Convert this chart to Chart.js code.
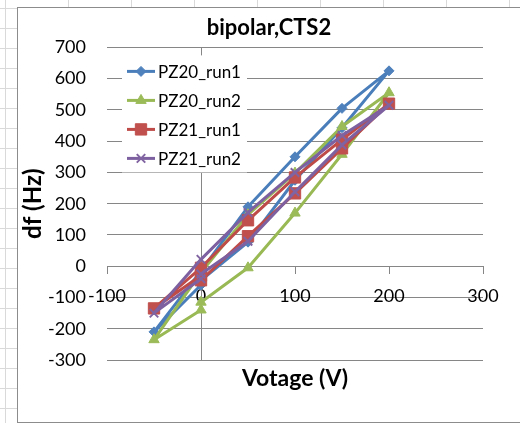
<!DOCTYPE html>
<html>
<head>
<meta charset="utf-8">
<script src="https://cdn.jsdelivr.net/npm/chart.js@4.4.0/dist/chart.umd.min.js"></script>
<style>
  html, body { margin: 0; padding: 0; }
  body {
    width: 520px; height: 423px; overflow: hidden; position: relative; background: #fff;
    background-image:
      linear-gradient(to right, #d9d9d9 1px, transparent 1px),
      linear-gradient(to bottom, #d9d9d9 1px, transparent 1px);
    background-size: 63px 20px;
    background-position: 5px 8px;
  }
  #frame {
    position: absolute; left: 17px; top: 7px; width: 504px; height: 416px;
    background: #fff; border: 1px solid #8c8c8c; box-sizing: border-box;
  }
  #chart { display: block; }
</style>
</head>
<body>
<div id="frame"><canvas id="chart" width="502" height="414"></canvas></div>
<script>
// Voltage sweep (V): up to 200, back down to -50, then back to 0
const voltage = [0, 50, 100, 150, 200, 150, 100, 50, 0, -50, 0];

// Frequency shift df (Hz) per run
const pz20Run1 = [-45, 77, 275, 443, 625, 505, 350, 190, -15, -210, -60];
const pz20Run2 = [-115, -5, 170, 358, 555, 447, 298, 165, -20, -235, -140];
const pz21Run1 = [-45, 96, 233, 377, 520, 405, 284, 147, -5, -135, -30];
const pz21Run2 = [-25, 80, 238, 388, 515, 418, 300, 172, 22, -150, -40];

const seriesNames = ['PZ20_run1', 'PZ20_run2', 'PZ21_run1', 'PZ21_run2'];
const xTicks = [-100, 0, 100, 200, 300];
const yTicks = [-300, -200, -100, 0, 100, 200, 300, 400, 500, 600, 700];

const FONT = 'Lato, "Liberation Sans", sans-serif';
const AXIS_GRAY = '#868686';

function series(label, values, line, marker, pointStyle, radius, order) {
  return {
    label,
    data: voltage.map((v, i) => ({ x: v, y: values[i] })),
    showLine: true,
    borderColor: line,
    borderWidth: 3,
    borderJoinStyle: 'round',
    borderCapStyle: 'round',
    backgroundColor: marker,
    pointBackgroundColor: marker,
    pointBorderColor: marker,
    pointBorderWidth: pointStyle === 'crossRot' ? 2 : 1,
    pointStyle,
    pointRadius: radius,
    tension: 0,
    order
  };
}

// Excel-style legend: white box inside the plot with line + marker samples
const plotLegend = {
  id: 'plotLegend',
  afterDraw(chart) {
    const { ctx, chartArea } = chart;
    const left = chartArea.left + 15;
    const top = chartArea.top + 8;
    ctx.save();
    ctx.fillStyle = '#fff';
    ctx.fillRect(left, top, 125, 117);
    chart.data.datasets.forEach((ds, i) => {
      const y = top + 16 + i * 29;
      ctx.strokeStyle = ds.borderColor;
      ctx.lineWidth = 3;
      ctx.beginPath();
      ctx.moveTo(left + 5, y);
      ctx.lineTo(left + 33, y);
      ctx.stroke();
      ctx.fillStyle = ds.pointBackgroundColor;
      ctx.strokeStyle = ds.pointBorderColor;
      ctx.lineWidth = ds.pointBorderWidth;
      Chart.helpers.drawPoint(ctx, { pointStyle: ds.pointStyle, radius: ds.pointRadius, rotation: 0, borderWidth: ds.pointBorderWidth }, left + 19, y);
      ctx.fillStyle = '#000';
      ctx.font = '17px ' + FONT;
      ctx.textAlign = 'left';
      ctx.textBaseline = 'middle';
      ctx.fillText(ds.label, left + 36, y + 1);
    });
    ctx.restore();
  }
};

new Chart(document.getElementById('chart'), {
  type: 'scatter',
  data: {
    datasets: [
      series(seriesNames[0], pz20Run1, '#4A7EBB', '#4F81BD', 'rectRot', 5, 4),
      series(seriesNames[1], pz20Run2, '#98B954', '#9BBB59', 'triangle', 6, 3),
      series(seriesNames[2], pz21Run1, '#BE4B48', '#C0504D', 'rect', 8, 2),
      series(seriesNames[3], pz21Run2, '#7D60A0', '#8064A2', 'crossRot', 6, 1)
    ]
  },
  options: {
    responsive: false,
    animation: false,
    layout: { padding: 0 },
    scales: {
      x: {
        type: 'linear',
        position: { y: 0 },
        min: xTicks[0],
        max: xTicks[xTicks.length - 1],
        afterBuildTicks: s => { s.ticks = xTicks.map(v => ({ value: v })); },
        ticks: { color: '#000', font: { family: FONT, size: 18 }, padding: 12, maxRotation: 0 },
        grid: { drawOnChartArea: false, drawTicks: true, tickLength: 7, color: AXIS_GRAY },
        border: { display: true, color: AXIS_GRAY }
      },
      // bottom band only carries the axis title, centred under the plot like Excel does
      xTitle: {
        type: 'linear',
        axis: 'x',
        position: 'bottom',
        min: xTicks[0],
        max: xTicks[xTicks.length - 1],
        afterFit: s => { s.height = 62; },
        ticks: { display: false },
        grid: { display: false },
        border: { display: false },
        title: { display: true, text: 'Votage (V)', color: '#000', font: { family: FONT, size: 23, weight: 'bold' }, padding: { top: 4, bottom: 30 } }
      },
      y: {
        type: 'linear',
        position: 'left',
        min: yTicks[0],
        max: yTicks[yTicks.length - 1],
        afterBuildTicks: s => { s.ticks = yTicks.map(v => ({ value: v })); },
        afterFit: s => { s.width = 89; },
        ticks: { color: '#000', font: { family: FONT, size: 18 }, padding: 21 },
        grid: { color: AXIS_GRAY, drawTicks: false },
        border: { display: false },
        title: { display: true, text: 'df (Hz)', color: '#000', font: { family: FONT, size: 24, weight: 'bold' }, padding: { top: 1, bottom: 0 } }
      },
      y2: {
        type: 'linear',
        axis: 'y',
        position: { x: 0 },
        min: yTicks[0],
        max: yTicks[yTicks.length - 1],
        ticks: { display: false },
        grid: { drawOnChartArea: false, drawTicks: false },
        border: { display: true, color: AXIS_GRAY }
      },
      // empty right margin of the plot, reserved so titles stay centred on the whole chart
      yRight: {
        type: 'linear',
        axis: 'y',
        position: 'right',
        min: yTicks[0],
        max: yTicks[yTicks.length - 1],
        afterFit: s => { s.width = 37; },
        ticks: { display: false },
        grid: { display: false },
        border: { display: false }
      }
    },
    plugins: {
      legend: { display: false },
      tooltip: { enabled: false },
      title: {
        display: true,
        text: 'bipolar,CTS2',
        color: '#000',
        font: { family: FONT, size: 22, weight: 'bold' },
        padding: { top: 7, bottom: 6 }
      }
    }
  },
  plugins: [plotLegend]
});
</script>
</body>
</html>
